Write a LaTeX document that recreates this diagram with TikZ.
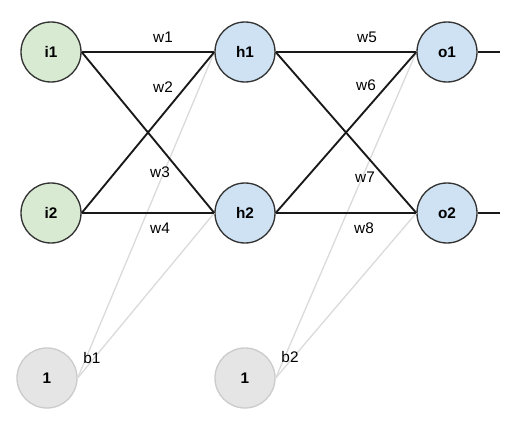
\documentclass[tikz,border=0pt]{standalone}
\usepackage{fontspec}
\setmainfont{Liberation Sans}
\usepackage{tikz}

\definecolor{ingreen}{HTML}{D9EAD3}
\definecolor{hidblue}{HTML}{CFE2F3}
\definecolor{biasgray}{HTML}{E5E5E5}
\definecolor{biasline}{HTML}{CCCCCC}

\begin{document}
\begin{tikzpicture}[x=0.75pt,y=-0.75pt,
		in_style/.style={circle,draw=black!80,line width=1pt,fill=ingreen,minimum size=45pt,inner sep=0pt,font=\bfseries\fontsize{11.5}{13}\selectfont},
		hid_style/.style={circle,draw=black!80,line width=1pt,fill=hidblue,minimum size=45pt,inner sep=0pt,font=\bfseries\fontsize{11.5}{13}\selectfont},
		bias_style/.style={circle,draw=biasline,line width=1pt,fill=biasgray,minimum size=45pt,inner sep=0pt,font=\bfseries\fontsize{11.5}{13}\selectfont},
		label_style/.style={inner sep=1pt,font=\fontsize{11.5}{13}\selectfont},
		edge_style/.style={draw=black!90,line width=1.4pt},
		bias_edge/.style={draw=biasline!70,line width=1pt}]
		\useasboundingbox (0,0) rectangle (517,441);

		\node[in_style] (i1) at (51,52)  {i1};
		\node[in_style] (i2) at (51,213)  {i2};
		\node[hid_style] (h1) at (245,52)  {h1};
		\node[hid_style] (h2) at (245,213)  {h2};
		\node[hid_style] (o1) at (447,52)  {o1};
		\node[hid_style] (o2) at (447,213)  {o2};
		\node[bias_style] (b1) at (47,378)  {1};
		\node[bias_style] (b2) at (245,378)  {1};
		\coordinate (out1) at (500,52);
		\coordinate (out2) at (500,213);

		\draw[bias_edge]  (b1.east) -- (h1.west);
		\draw[bias_edge]  (b1.east) -- (h2.west);
		\draw[bias_edge]  (b2.east) -- (o1.west);
		\draw[bias_edge]  (b2.east) -- (o2.west);

		\draw[edge_style]  (i1.east) -- (h1.west);
		\draw[edge_style]  (i1.east) -- (h2.west);
		\draw[edge_style]  (i2.east) -- (h1.west);
		\draw[edge_style]  (i2.east) -- (h2.west);
		\draw[edge_style]  (h1.east) -- (o1.west);
		\draw[edge_style]  (h1.east) -- (o2.west);
		\draw[edge_style]  (h2.east) -- (o1.west);
		\draw[edge_style]  (h2.east) -- (o2.west);
		\draw[edge_style]  (o1.east) -- (out1);
		\draw[edge_style]  (o2.east) -- (out2);

		\node[label_style] (w1) at (163,37)  {w1};
		\node[label_style] (w2) at (163,87)  {w2};
		\node[label_style] (w3) at (160,172)  {w3};
		\node[label_style] (w4) at (160,228)  {w4};
		\node[label_style] (w5) at (367,37)  {w5};
		\node[label_style] (w6) at (366,85)  {w6};
		\node[label_style] (w7) at (365,177)  {w7};
		\node[label_style] (w8) at (364,228)  {w8};
		\node[label_style] (lb1) at (92,358)  {b1};
		\node[label_style] (lb2) at (290,357)  {b2};
\end{tikzpicture}
\end{document}
